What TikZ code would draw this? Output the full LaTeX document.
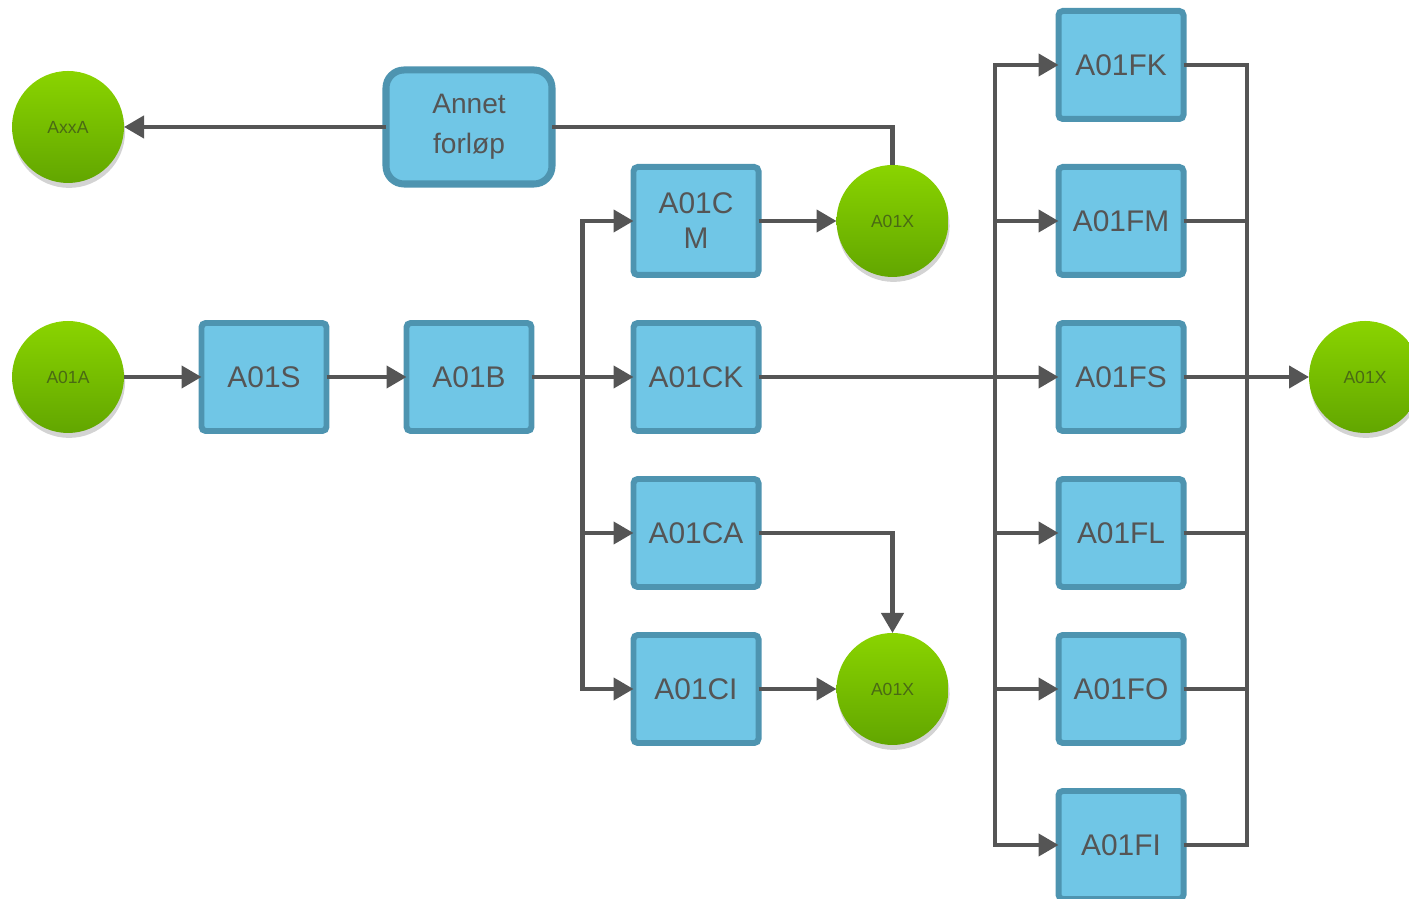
\documentclass[tikz,border=0pt]{standalone}
\usepackage{fontspec}
\setmainfont{Liberation Sans}
\usetikzlibrary{positioning,calc,shadows,arrows.meta}
\definecolor{boxfill}{HTML}{70C6E6}
\definecolor{boxline}{HTML}{4E94B0}
\definecolor{ballhi}{HTML}{8AD400}
\definecolor{balllo}{HTML}{62A600}
\definecolor{txtgray}{HTML}{555555}
\definecolor{balltxt}{HTML}{4A6A14}
\definecolor{wiregray}{HTML}{555555}
\tikzset{
  bx/.style={rectangle, rounded corners=1.2pt, minimum width=1.25cm, minimum height=1.08cm, inner sep=1pt, outer sep=0pt, align=center, draw=boxline, line width=1.7pt, fill=boxfill, text=txtgray, font=\fontsize{8.5}{10}\selectfont},
  rbx/.style={bx, rounded corners=0.18cm, minimum width=1.66cm, minimum height=1.14cm, line width=2pt, font=\fontsize{8}{11.3}\selectfont},
  ball/.style={circle, minimum size=1.12cm, inner sep=0pt, outer sep=0pt, top color=ballhi, bottom color=balllo, draw=none, text=balltxt, font=\fontsize{5}{6}\selectfont, drop shadow={opacity=0.35, shadow xshift=0.3pt, shadow yshift=-1.4pt}},
  ln/.style={draw=wiregray, line width=1.2pt},
  node distance=4.8mm
}
\begin{document}
\begin{tikzpicture}[>={Triangle[length=2mm,width=2.2mm]}]
	\useasboundingbox (0,0) rectangle (14.09,-8.99);
	\node[ball] (axxa) at (0.68,-1.27) {AxxA};
	\node[rbx] (annet) at (4.69,-1.27) {Annet\\forløp};
	\node[ball] (a01a) at (0.68,-3.77) {A01A};
	\node[bx] (b) at (4.69,-3.77) {A01B};
	\node[bx, left=0.8cm of b] (s) {A01S};
	\node[bx] (ck) at (6.96,-3.77) {A01CK};
	\node[bx, above=of ck] (cm) {A01C\\M};
	\node[bx, below=of ck] (ca) {A01CA};
	\node[bx, below=of ca] (ci) {A01CI};
	\node[ball, right=0.78cm of cm] (xtop) {A01X};
	\node[ball, right=0.78cm of ci] (xbot) {A01X};
	\node[bx] (fs) at (11.21,-3.77) {A01FS};
	\node[bx, above=of fs] (fm) {A01FM};
	\node[bx, above=of fm] (fk) {A01FK};
	\node[bx, below=of fs] (fl) {A01FL};
	\node[bx, below=of fl] (fo) {A01FO};
	\node[bx, below=of fo] (fi) {A01FI};
	\node[ball] (xout) at (13.65,-3.77) {A01X};
	%
	\coordinate (split) at ($(b.east)!0.5!(ck.west)$);
	\coordinate (fsplit) at (9.95,-3.77);
	\coordinate (fjoin) at (12.47,-3.77);
	%
	\draw[ln,->] (a01a) -- (s);
	\draw[ln,->] (s) -- (b);
	\draw[ln,->] (b) -- (ck);
	\draw[ln,->] (split) |- (cm);
	\draw[ln,->] (split) |- (ca);
	\draw[ln,->] (split) |- (ci);
	\draw[ln,->] (cm) -- (xtop);
	\draw[ln,->] (ci) -- (xbot);
	\draw[ln,->] (ca) -| (xbot);
	\draw[ln] (xtop) |- (annet);
	\draw[ln,->] (annet) -- (axxa);
	%
	\draw[ln,->] (ck) -- (fs);
	\draw[ln,->] (fsplit) |- (fk);
	\draw[ln,->] (fsplit) |- (fm);
	\draw[ln,->] (fsplit) |- (fl);
	\draw[ln,->] (fsplit) |- (fo);
	\draw[ln,->] (fsplit) |- (fi);
	\draw[ln] (fk) -| (fjoin);
	\draw[ln] (fm) -| (fjoin);
	\draw[ln] (fl) -| (fjoin);
	\draw[ln] (fo) -| (fjoin);
	\draw[ln] (fi) -| (fjoin);
	\draw[ln,->] (fs) -- (xout);
\end{tikzpicture}
\end{document}
